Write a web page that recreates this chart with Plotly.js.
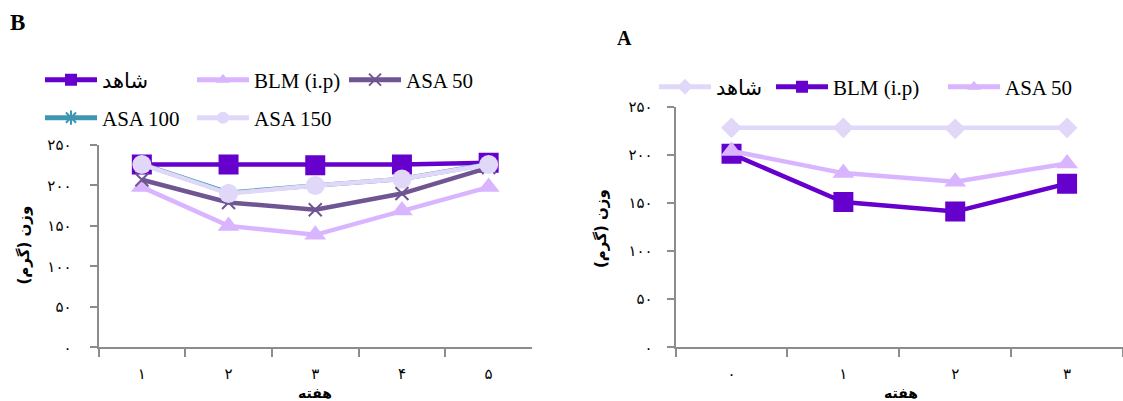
<!DOCTYPE html>
<html><head><meta charset="utf-8">
<script src="https://cdn.plot.ly/plotly-3.0.1.min.js"></script>
<style>html,body{margin:0;padding:0;background:#fff}#chart{width:1123px;height:401px}</style>
</head><body><div id="chart"></div>
<script>
// ---- data ----
const weeksB = ['۱','۲','۳','۴','۵'];
const weeksA = ['۰','۱','۲','۳'];
const yTickVals = [0,50,100,150,200,250];
const yTickText = ['۰','۵۰','۱۰۰','۱۵۰','۲۰۰','۲۵۰'];
const namesB = ['شاهد','BLM (i.p)','ASA 50','ASA 100','ASA 150'];
const controlB = [226,226,225,226,228];
const blmB = [198,150,139,169,198];
const asa50B = [207,179,170,190,222];
const asa100B = [226.5,191,200,208,226.5];
const asa150B = [226,190,200,208,226];
const namesA = ['شاهد','BLM (i.p)','ASA 50'];
const controlA = [228,228,227,228];
const blmA = [201,151,141,170];
const asa50A = [204,181,172,191];
const panelLabels = ['B','A'];
const yTitle = 'وزن (گرم)';
const xTitle = 'هفته';

// ---- styles ----
const C = {dark:'#6600CC', light:'#D9B5FF', mid:'#6F5592', teal:'#3F96B0', lav:'#E0D7F9'};
const LW = 4.5;
function tr(x, y, name, color, symbol, size, xa, ya, legend, extra){
  const t = {x, y, name, type:'scatter', mode:'lines+markers', xaxis:xa, yaxis:ya, legend,
    line:{color, width:LW}, marker:{color, symbol, size, line:{width:0, color}}};
  if (extra) Object.assign(t.marker, extra);
  return t;
}
const data = [
  tr(weeksB, controlB, namesB[0], C.dark, 'square', 20, 'x', 'y', 'legend'),
  tr(weeksB, blmB, namesB[1], C.light, 'triangle-up', 19, 'x', 'y', 'legend'),
  tr(weeksB, asa50B, namesB[2], C.mid, 'x-thin-open', 13, 'x', 'y', 'legend', {line:{width:2, color:C.mid}}),
  tr(weeksB, asa100B, namesB[3], C.teal, 'asterisk-open', 14, 'x', 'y', 'legend2', {line:{width:2, color:C.teal}}),
  tr(weeksB, asa150B, namesB[4], C.lav, 'circle', 19, 'x', 'y', 'legend2'),
  tr(weeksA, controlA, namesA[0], C.lav, 'diamond', 16, 'x2', 'y2', 'legend3'),
  tr(weeksA, blmA, namesA[1], C.dark, 'square', 20, 'x2', 'y2', 'legend4'),
  tr(weeksA, asa50A, namesA[2], C.light, 'triangle-up', 19, 'x2', 'y2', 'legend5')
];

const gray = '#8c8c8c';
const tickFont = {family:'DejaVu Sans', size:15, color:'#000'};
function xAxis(domain, anchor, n){
  return {domain, anchor, type:'category', range:[-0.5, n-0.5], tickson:'boundaries',
    ticks:'outside', ticklen:8, tickwidth:2, tickcolor:gray, showline:true, linecolor:gray, linewidth:2,
    showgrid:false, zeroline:false, tickfont:tickFont, ticklabelstandoff:12, fixedrange:true};
}
function yAxis(domain, anchor, standoff){
  return {domain, anchor, range:[0,250], tickvals:yTickVals, ticktext:yTickText,
    ticks:'outside', ticklen:7, tickwidth:2, tickcolor:gray, showline:true, linecolor:gray, linewidth:2,
    showgrid:false, zeroline:false, tickfont:tickFont, ticklabelstandoff:standoff, fixedrange:true};
}
const legFont = {family:'Liberation Serif, DejaVu Sans', size:21, color:'#000'};
function leg(x, y, extra){
  return Object.assign({orientation:'h', x, y, xanchor:'left', yanchor:'middle', xref:'paper', yref:'paper',
    font:legFont, bgcolor:'rgba(0,0,0,0)', borderwidth:0, itemwidth:52, itemsizing:'constant',
    itemclick:false, itemdoubleclick:false}, extra||{});
}
const W = 1123, H = 401;
const px = v => v / W, py = v => 1 - v / H;
const layout = {
  width:W, height:H, margin:{l:0, r:0, t:0, b:0}, paper_bgcolor:'#fff', plot_bgcolor:'#fff',
  showlegend:true, hovermode:false,
  xaxis: xAxis([px(98.5), px(532)], 'y', weeksB.length),
  yaxis: yAxis([py(347.3), py(145)], 'x', 15),
  xaxis2: xAxis([px(675.6), 1], 'y2', weeksA.length),
  yaxis2: yAxis([py(347.3), py(106.7)], 'x2', 11),
  legend: leg(px(40), py(80), {entrywidth:85}),
  legend2: leg(px(40), py(118), {entrywidth:85}),
  legend3: leg(px(654), py(87)),
  legend4: leg(px(771), py(87)),
  legend5: leg(px(943), py(87)),
  annotations: [
    {text:'<b>'+panelLabels[0]+'</b>', x:px(8), y:py(23), xref:'paper', yref:'paper', xanchor:'left', yanchor:'middle', showarrow:false, font:{family:'Liberation Serif', size:23, color:'#000'}},
    {text:'<b>'+panelLabels[1]+'</b>', x:px(615), y:py(38), xref:'paper', yref:'paper', xanchor:'left', yanchor:'middle', showarrow:false, font:{family:'Liberation Serif', size:20, color:'#000'}},
    {text:'<b>'+yTitle+'</b>', x:px(23.5), y:py(245), xref:'paper', yref:'paper', xanchor:'center', yanchor:'middle', textangle:-90, showarrow:false, font:{family:'DejaVu Sans', size:15, color:'#000'}},
    {text:'<b>'+yTitle+'</b>', x:px(601), y:py(229), xref:'paper', yref:'paper', xanchor:'center', yanchor:'middle', textangle:-90, showarrow:false, font:{family:'DejaVu Sans', size:15, color:'#000'}},
    {text:'<b>'+xTitle+'</b>', x:px(315), y:py(393), xref:'paper', yref:'paper', xanchor:'center', yanchor:'middle', showarrow:false, font:{family:'DejaVu Sans', size:14, color:'#000'}},
    {text:'<b>'+xTitle+'</b>', x:px(901), y:py(393), xref:'paper', yref:'paper', xanchor:'center', yanchor:'middle', showarrow:false, font:{family:'DejaVu Sans', size:14, color:'#000'}}
  ]
};
Plotly.newPlot('chart', data, layout, {displayModeBar:false, staticPlot:true});
</script></body></html>
